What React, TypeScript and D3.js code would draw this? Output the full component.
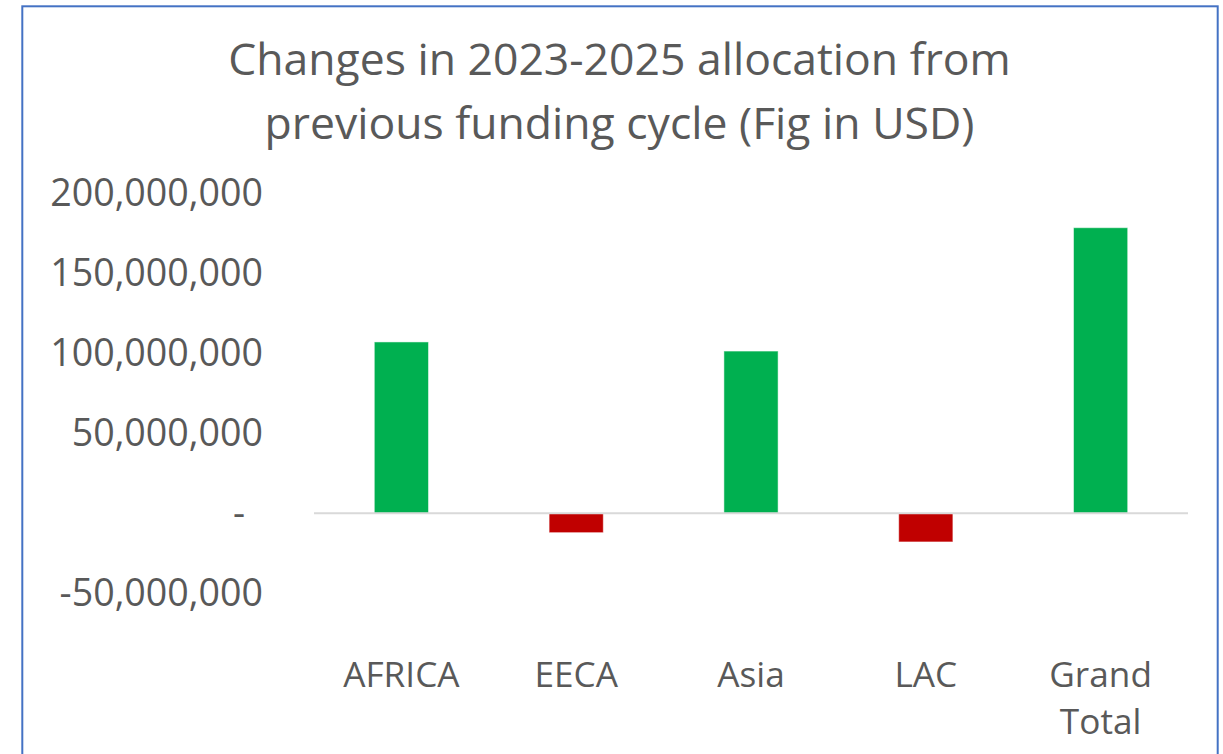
import React from "react";
import * as d3 from "d3";

const categories: string[][] = [["AFRICA"], ["EECA"], ["Asia"], ["LAC"], ["Grand", "Total"]];
const values: number[] = [107100000, -12100000, 101400000, -17900000, 178500000];
const tickValues: number[] = [-50000000, 0, 50000000, 100000000, 150000000, 200000000];
const titleLines: string[] = ["Changes in 2023-2025 allocation from", "previous funding cycle (Fig in USD)"];

const W = 1223;
const H = 754;
const FONT = "'Open Sans', 'Noto Sans', sans-serif";
const TEXT = "#595959";

export default function App() {
  const x = d3
    .scaleBand<number>()
    .domain(values.map((_, i) => i))
    .range([314, 1188])
    .paddingInner(0.69)
    .paddingOuter(0.345);
  const y = d3.scaleLinear().domain([-50000000, 200000000]).range([593.3, 193.3]);
  const locale = d3.formatLocale({ decimal: ".", thousands: ",", grouping: [3], currency: ["$", ""], minus: "-" });
  const fmt = locale.format(",.0f");
  const y0 = y(0);

  return (
    <div style={{ position: "fixed", left: 0, top: 0 }}>
      <svg width={W} height={H} style={{ display: "block", background: "#fff" }}>
        <rect x={22.3} y={6.3} width={1195.4} height={800} fill="#fff" stroke="#4472C4" strokeWidth={2} />
        {titleLines.map((t, i) => (
          <text
            key={i}
            x={619.5}
            y={75 + i * 64}
            textAnchor="middle"
            fontFamily={FONT}
            fontSize={44.5}
            fill={TEXT}
          >
            {t}
          </text>
        ))}
        {tickValues.map((v) => (
          <text
            key={v}
            x={v === 0 ? 245 : 263}
            y={y(v)}
            dy="0.35em"
            textAnchor="end"
            fontFamily={FONT}
            fontSize={37.6}
            fill={TEXT}
          >
            {v === 0 ? "-" : fmt(v)}
          </text>
        ))}
        {values.map((v, i) => (
          <rect
            key={i}
            x={x(i)!}
            y={Math.min(y(v), y0)}
            width={x.bandwidth()}
            height={Math.abs(y(v) - y0)}
            fill={v >= 0 ? "#00B050" : "#C00000"}
            stroke="#ffffff"
            strokeOpacity={0.5}
            strokeWidth={1}
          />
        ))}
        <line x1={314} x2={1188} y1={y0} y2={y0} stroke="#D9D9D9" strokeWidth={2} />
        {categories.map((lines, i) => (
          <text
            key={i}
            x={x(i)! + x.bandwidth() / 2}
            y={687}
            textAnchor="middle"
            fontFamily={FONT}
            fontSize={35.2}
            fill={TEXT}
          >
            {lines.map((l, j) => (
              <tspan key={j} x={x(i)! + x.bandwidth() / 2} dy={j === 0 ? 0 : 47}>
                {l}
              </tspan>
            ))}
          </text>
        ))}
      </svg>
    </div>
  );
}
